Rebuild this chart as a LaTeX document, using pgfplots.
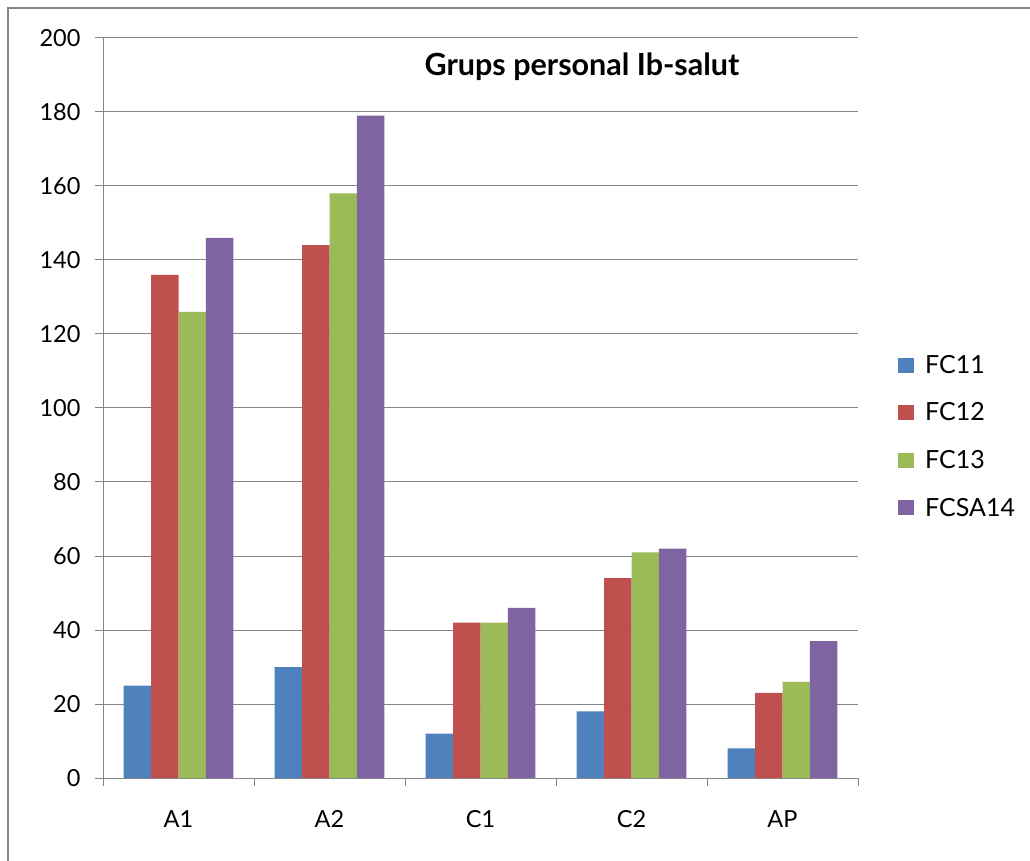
\documentclass[border=0pt]{standalone}
\usepackage{pgfplots}
\pgfplotsset{compat=1.18}
\usepackage{fontspec}
\setmainfont{Lato}
\definecolor{sA}{RGB}{79,129,189}
\definecolor{sB}{RGB}{192,80,77}
\definecolor{sC}{RGB}{155,187,89}
\definecolor{sD}{RGB}{128,100,162}
\definecolor{gridc}{RGB}{134,134,134}
\begin{document}
\begin{tikzpicture}[x=1pt,y=1pt]
\useasboundingbox (0,0) rectangle (1030,860);
% outer chart frame (only top and left visible)
\draw[gridc, line width=1.8pt] (8,-10) -- (8,852) -- (1040,852);
\begin{axis}[
    at={(103pt,82pt)}, anchor=south west,
    scale only axis,
    width=755pt, height=740pt,
    ybar, bar width=0.182,
    xmin=-0.5, xmax=4.5,
    ymin=0, ymax=200,
    ytick={0,20,...,200},
    xtick={0,1,2,3,4},
    xticklabels={A1,A2,C1,C2,AP},
    major x tick style={draw=none},
    minor xtick={-0.5,0.5,...,4.5},
    axis x line*=bottom,
    axis y line*=left,
    axis line style={gridc, line width=1pt},
    tick align=outside,
    major tick length=8pt,
    minor tick length=8pt,
    every tick/.style={gridc, line width=1pt},
    ymajorgrids,
    grid style={gridc, line width=1pt},
    /pgf/number format/assume math mode=true,
    tick label style={font=\fontsize{23.5}{27}\selectfont},
    yticklabel style={xshift=-11pt},
    xticklabel style={yshift=-21pt},
    legend style={at={(1.053,0.4615)}, anchor=west, draw=none,
        font=\fontsize{25}{29}\selectfont, row sep=24pt,
        inner sep=0pt,
        /tikz/every odd column/.append style={column sep=9pt}},
    legend cell align=left,
    legend image code/.code={\fill[#1] (0pt,-7.5pt) rectangle (16pt,7.5pt);},
]
\addplot[fill=sA, draw=none, bar shift=-0.273] coordinates {(0,25) (1,30) (2,12) (3,18) (4,8)};
\addplot[fill=sB, draw=none, bar shift=-0.091] coordinates {(0,136) (1,144) (2,42) (3,54) (4,23)};
\addplot[fill=sC, draw=none, bar shift=0.091] coordinates {(0,126) (1,158) (2,42) (3,61) (4,26)};
\addplot[fill=sD, draw=none, bar shift=0.273] coordinates {(0,146) (1,179) (2,46) (3,62) (4,37)};
\legend{FC11,FC12,FC13,FCSA14}
\end{axis}
\node[font=\fontsize{30.5}{34}\selectfont\bfseries] at (582,793) {Grups personal Ib-salut};
\end{tikzpicture}
\end{document}
